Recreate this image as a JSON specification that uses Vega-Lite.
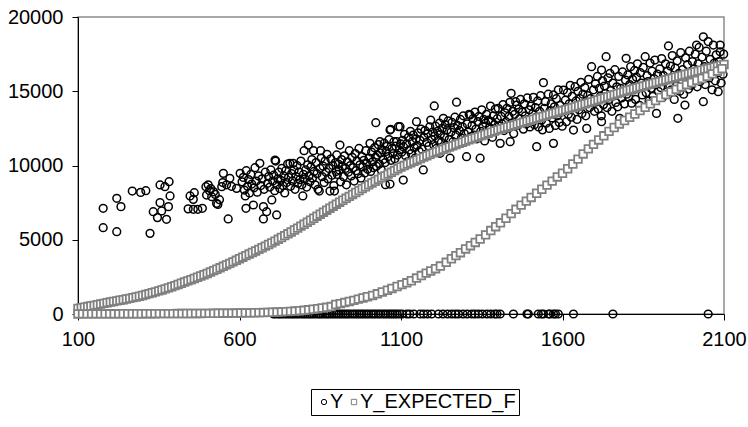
{
  "$schema": "https://vega.github.io/schema/vega-lite/v6.json",
  "width": 646,
  "height": 297,
  "autosize": {"type": "none"},
  "padding": {"left": 78, "top": 17, "right": 24, "bottom": 113},
  "background": "white",
  "config": {
    "font": "Liberation Sans",
    "view": {"stroke": "#8c8c8c", "strokeWidth": 1.5},
    "axis": {
      "grid": false,
      "domainColor": "black",
      "domainWidth": 1,
      "tickColor": "black",
      "tickSize": 6,
      "labelFont": "Liberation Sans",
      "labelFontSize": 20,
      "labelColor": "black",
      "labelFlush": false,
      "labelOverlap": false,
      "title": null
    },
    "legend": {
      "orient": "none",
      "legendX": 233,
      "legendY": 372,
      "direction": "horizontal",
      "strokeColor": "black",
      "fillColor": "white",
      "padding": 3,
      "labelFont": "Liberation Sans",
      "labelFontSize": 20,
      "labelColor": "black",
      "labelOffset": -4,
      "columnPadding": -6,
      "symbolSize": 28,
      "symbolStrokeWidth": 1,
      "title": null
    }
  },
  "datasets": {
    "Y": [
      {"x":178,"y":7120},{"x":178,"y":5810},{"x":220,"y":7790},{"x":233,"y":7230},{"x":220,"y":5540},{"x":268,"y":8280},{"x":294,"y":8190},{"x":310,"y":8300},{"x":323,"y":5430},{"x":333,"y":6890},{"x":346,"y":6490},{"x":354,"y":7500},{"x":354,"y":8690},{"x":369,"y":8570},{"x":382,"y":8910},{"x":385,"y":7950},{"x":380,"y":7230},{"x":359,"y":6940},{"x":374,"y":6380},{"x":447,"y":7950},{"x":460,"y":8170},{"x":457,"y":7720},{"x":441,"y":7080},{"x":457,"y":7050},{"x":471,"y":7050},{"x":485,"y":7120},{"x":496,"y":8570},{"x":507,"y":8300},{"x":498,"y":8010},{"x":514,"y":7900},{"x":529,"y":7450},{"x":533,"y":7380},{"x":520,"y":8230},{"x":550,"y":9470},{"x":570,"y":9140},{"x":565,"y":6400},{"x":545,"y":8570},{"x":591,"y":8460},{"x":602,"y":9470},{"x":503,"y":8700},{"x":511,"y":8450},{"x":525,"y":8050},{"x":538,"y":7700},{"x":548,"y":8850},{"x":560,"y":8700},{"x":575,"y":8600},{"x":620,"y":7120},
      {"x":608,"y":8900},{"x":612,"y":9200},{"x":615,"y":8350},{"x":618,"y":7950},{"x":621,"y":9650},{"x":625,"y":8600},{"x":628,"y":9050},{"x":631,"y":8150},{"x":635,"y":9400},{"x":638,"y":8750},{"x":643,"y":7340},{"x":645,"y":8500},{"x":648,"y":9850},{"x":652,"y":8950},{"x":655,"y":8200},{"x":659,"y":9300},{"x":663,"y":10150},{"x":666,"y":8650},{"x":670,"y":9100},{"x":674,"y":7230},{"x":676,"y":8400},{"x":680,"y":9550},{"x":684,"y":6890},{"x":687,"y":8800},{"x":690,"y":9250},{"x":694,"y":8550},{"x":697,"y":9700},{"x":674,"y":6400},{"x":700,"y":7680},
      {"x":703,"y":8950},{"x":706,"y":9350},{"x":709,"y":8300},{"x":710,"y":10370},{"x":712,"y":10300},{"x":715,"y":6670},{"x":716,"y":8700},{"x":719,"y":9100},{"x":722,"y":9550},{"x":725,"y":8450},{"x":728,"y":9000},{"x":731,"y":9800},{"x":734,"y":8650},{"x":737,"y":9300},{"x":740,"y":8150},{"x":743,"y":9650},{"x":746,"y":8850},{"x":749,"y":10100},{"x":752,"y":9200},{"x":756,"y":10150},{"x":758,"y":8600},{"x":761,"y":9450},{"x":764,"y":8950},{"x":766,"y":10150},{"x":769,"y":9700},{"x":772,"y":8400},{"x":775,"y":9250},{"x":778,"y":10000},{"x":781,"y":8800},{"x":784,"y":9550},{"x":787,"y":9050},{"x":790,"y":10300},{"x":793,"y":8700},{"x":796,"y":7950},{"x":798,"y":9400},
      {"x":800,"y":11000},{"x":802,"y":9100},{"x":805,"y":9700},{"x":808,"y":8550},{"x":811,"y":10050},{"x":813,"y":11380},{"x":815,"y":9300},{"x":818,"y":8900},{"x":821,"y":9900},{"x":824,"y":10400},{"x":826,"y":9150},{"x":829,"y":11000},{"x":831,"y":9600},{"x":834,"y":8700},{"x":837,"y":10200},{"x":840,"y":9450},{"x":843,"y":8400},{"x":847,"y":8280},{"x":849,"y":9800},{"x":851,"y":11000},{"x":853,"y":10500},{"x":856,"y":9250},{"x":859,"y":9950},{"x":862,"y":8850},{"x":865,"y":10300},{"x":868,"y":9550},{"x":871,"y":10750},{"x":874,"y":9100},{"x":877,"y":9800},{"x":880,"y":8280},{"x":883,"y":10450},{"x":886,"y":9350},{"x":889,"y":10000},{"x":892,"y":8650},{"x":894,"y":8280},{"x":897,"y":10200},{"x":899,"y":9600},
      {"x":901,"y":10710},{"x":903,"y":9400},{"x":906,"y":10100},{"x":909,"y":9700},{"x":911,"y":11380},{"x":913,"y":8900},{"x":916,"y":10400},{"x":919,"y":9950},{"x":922,"y":9250},{"x":925,"y":10650},{"x":928,"y":9800},{"x":931,"y":8700},{"x":934,"y":10250},{"x":937,"y":9550},{"x":940,"y":11000},{"x":943,"y":10000},{"x":946,"y":9300},{"x":949,"y":10550},{"x":952,"y":9850},{"x":955,"y":8950},{"x":958,"y":10800},{"x":961,"y":9650},{"x":964,"y":10300},{"x":967,"y":9450},{"x":970,"y":11150},{"x":973,"y":10050},{"x":976,"y":9150},{"x":979,"y":10600},{"x":982,"y":9900},{"x":985,"y":10350},{"x":988,"y":9500},{"x":991,"y":11000},{"x":994,"y":10150},{"x":997,"y":9750},
      {"x":1004,"y":11490},{"x":1002,"y":10500},{"x":1006,"y":9600},{"x":1009,"y":10900},{"x":1012,"y":10250},{"x":1015,"y":9850},{"x":1018,"y":11200},{"x":1021,"y":10550},{"x":1022,"y":12880},{"x":1024,"y":9950},{"x":1027,"y":10700},{"x":1030,"y":11400},{"x":1033,"y":10100},{"x":1035,"y":11600},{"x":1036,"y":10850},{"x":1039,"y":9700},{"x":1042,"y":11050},{"x":1045,"y":10400},{"x":1048,"y":11500},{"x":1051,"y":10200},{"x":1052,"y":8710},{"x":1054,"y":10950},{"x":1057,"y":11300},{"x":1060,"y":10600},{"x":1063,"y":11750},{"x":1066,"y":8750},{"x":1066,"y":12390},{"x":1068,"y":12440},{"x":1069,"y":10350},{"x":1072,"y":11150},{"x":1075,"y":10800},{"x":1078,"y":11600},{"x":1081,"y":10450},{"x":1084,"y":11300},{"x":1087,"y":11600},{"x":1089,"y":10700},{"x":1092,"y":12610},{"x":1095,"y":11050},{"x":1097,"y":12610},{"x":1099,"y":11450},
      {"x":1102,"y":10900},{"x":1105,"y":11700},{"x":1107,"y":9020},{"x":1108,"y":11250},{"x":1111,"y":12100},{"x":1114,"y":10650},{"x":1117,"y":11450},{"x":1120,"y":10250},{"x":1123,"y":11900},{"x":1126,"y":11050},{"x":1129,"y":12300},{"x":1132,"y":10800},{"x":1135,"y":11600},{"x":1138,"y":12050},{"x":1141,"y":11200},{"x":1144,"y":10500},{"x":1147,"y":11800},{"x":1148,"y":12950},{"x":1150,"y":11350},{"x":1153,"y":12200},{"x":1156,"y":10950},{"x":1159,"y":11700},{"x":1162,"y":12450},{"x":1165,"y":11100},{"x":1169,"y":9700},{"x":1171,"y":11900},{"x":1174,"y":12350},{"x":1177,"y":10750},{"x":1180,"y":11550},{"x":1183,"y":12150},{"x":1186,"y":11300},{"x":1189,"y":12600},{"x":1192,"y":13060},{"x":1195,"y":11750},{"x":1198,"y":12250},
      {"x":1201,"y":11400},{"x":1203,"y":14010},{"x":1204,"y":12000},{"x":1207,"y":12650},{"x":1210,"y":11150},{"x":1213,"y":12300},{"x":1216,"y":11700},{"x":1219,"y":12850},{"x":1221,"y":10820},{"x":1222,"y":12100},{"x":1225,"y":11550},{"x":1228,"y":12500},{"x":1231,"y":13180},{"x":1234,"y":11900},{"x":1237,"y":12750},{"x":1240,"y":11350},{"x":1243,"y":12400},{"x":1246,"y":13000},{"x":1249,"y":11750},{"x":1252,"y":10490},{"x":1255,"y":12250},{"x":1258,"y":12900},{"x":1261,"y":11600},{"x":1264,"y":12550},{"x":1267,"y":13250},{"x":1270,"y":12050},{"x":1272,"y":14260},{"x":1275,"y":12700},{"x":1278,"y":11450},{"x":1281,"y":12350},{"x":1284,"y":13100},{"x":1287,"y":11850},{"x":1290,"y":12600},{"x":1293,"y":13350},{"x":1296,"y":12150},{"x":1299,"y":11700},
      {"x":1303,"y":10590},{"x":1305,"y":12800},{"x":1308,"y":12250},{"x":1311,"y":13450},{"x":1314,"y":13400},{"x":1317,"y":11950},{"x":1320,"y":12700},{"x":1323,"y":13150},{"x":1326,"y":12050},{"x":1329,"y":13600},{"x":1332,"y":12450},{"x":1335,"y":11800},{"x":1338,"y":12950},{"x":1341,"y":13300},{"x":1345,"y":10490},{"x":1347,"y":12300},{"x":1350,"y":13750},{"x":1353,"y":12650},{"x":1356,"y":13100},{"x":1359,"y":11650},{"x":1362,"y":12850},{"x":1365,"y":13450},{"x":1368,"y":12200},{"x":1371,"y":13050},{"x":1374,"y":12550},{"x":1377,"y":14000},{"x":1380,"y":12950},{"x":1383,"y":11900},{"x":1386,"y":13350},{"x":1389,"y":12750},{"x":1392,"y":13800},{"x":1395,"y":12400},{"x":1398,"y":13150},{"x":1401,"y":13850},
      {"x":1404,"y":12650},{"x":1407,"y":11490},{"x":1410,"y":13300},{"x":1413,"y":12800},{"x":1416,"y":14100},{"x":1419,"y":12350},{"x":1422,"y":13550},{"x":1425,"y":12950},{"x":1428,"y":13850},{"x":1431,"y":12500},{"x":1434,"y":13300},{"x":1437,"y":14250},{"x":1438,"y":11600},{"x":1441,"y":14860},{"x":1443,"y":12850},{"x":1446,"y":13650},{"x":1449,"y":12150},{"x":1452,"y":13450},{"x":1455,"y":14300},{"x":1458,"y":14070},{"x":1461,"y":12700},{"x":1464,"y":13800},{"x":1467,"y":13150},{"x":1470,"y":14450},{"x":1473,"y":12900},{"x":1476,"y":13600},{"x":1479,"y":12450},{"x":1482,"y":14150},{"x":1485,"y":13350},{"x":1488,"y":12800},{"x":1491,"y":14550},{"x":1494,"y":13100},{"x":1497,"y":13750},{"x":1499,"y":12600},
      {"x":1502,"y":14000},{"x":1505,"y":12950},{"x":1508,"y":13500},{"x":1510,"y":14590},{"x":1513,"y":12750},{"x":1516,"y":13900},{"x":1519,"y":13250},{"x":1520,"y":11270},{"x":1523,"y":14350},{"x":1526,"y":12600},{"x":1529,"y":13650},{"x":1532,"y":14700},{"x":1535,"y":13050},{"x":1538,"y":12400},{"x":1541,"y":15580},{"x":1544,"y":13850},{"x":1547,"y":14300},{"x":1550,"y":12850},{"x":1553,"y":13450},{"x":1556,"y":14800},{"x":1559,"y":12500},{"x":1562,"y":13700},{"x":1565,"y":14150},{"x":1568,"y":13200},{"x":1572,"y":11490},{"x":1572,"y":14750},{"x":1575,"y":13950},{"x":1578,"y":12700},{"x":1581,"y":14500},{"x":1584,"y":13350},{"x":1587,"y":15100},{"x":1590,"y":12900},{"x":1593,"y":14050},{"x":1596,"y":13600},{"x":1599,"y":12650},
      {"x":1603,"y":15080},{"x":1606,"y":13800},{"x":1609,"y":14400},{"x":1612,"y":12950},{"x":1615,"y":14900},{"x":1618,"y":13450},{"x":1621,"y":14150},{"x":1624,"y":15400},{"x":1627,"y":13250},{"x":1630,"y":14650},{"x":1634,"y":12390},{"x":1636,"y":13950},{"x":1639,"y":15310},{"x":1642,"y":14350},{"x":1645,"y":13100},{"x":1648,"y":15000},{"x":1651,"y":13750},{"x":1654,"y":14500},{"x":1657,"y":15600},{"x":1660,"y":13500},{"x":1663,"y":14800},{"x":1666,"y":14100},{"x":1669,"y":15250},{"x":1672,"y":13350},{"x":1675,"y":12500},{"x":1678,"y":14700},{"x":1681,"y":15800},{"x":1684,"y":13900},{"x":1687,"y":14500},{"x":1690,"y":16650},{"x":1693,"y":14250},{"x":1696,"y":15100},{"x":1699,"y":13650},
      {"x":1702,"y":15500},{"x":1705,"y":14300},{"x":1708,"y":16000},{"x":1711,"y":13800},{"x":1714,"y":15200},{"x":1717,"y":14650},{"x":1720,"y":13350},{"x":1721,"y":16430},{"x":1721,"y":12950},{"x":1724,"y":15700},{"x":1727,"y":14100},{"x":1730,"y":15350},{"x":1733,"y":14850},{"x":1735,"y":17330},{"x":1738,"y":13900},{"x":1741,"y":15900},{"x":1744,"y":14450},{"x":1747,"y":16200},{"x":1750,"y":15050},{"x":1753,"y":13650},{"x":1756,"y":15550},{"x":1759,"y":14700},{"x":1762,"y":16450},{"x":1765,"y":14250},{"x":1768,"y":15300},{"x":1771,"y":13950},{"x":1774,"y":16000},{"x":1777,"y":13180},{"x":1780,"y":15200},{"x":1783,"y":14550},{"x":1786,"y":16300},{"x":1789,"y":15000},{"x":1792,"y":14150},{"x":1795,"y":15750},{"x":1797,"y":17220},{"x":1799,"y":14800},
      {"x":1802,"y":16100},{"x":1805,"y":14600},{"x":1808,"y":15450},{"x":1811,"y":16650},{"x":1814,"y":14200},{"x":1817,"y":15800},{"x":1820,"y":15100},{"x":1823,"y":16400},{"x":1826,"y":14450},{"x":1829,"y":15950},{"x":1832,"y":16850},{"x":1835,"y":15250},{"x":1838,"y":14050},{"x":1841,"y":16250},{"x":1844,"y":15550},{"x":1847,"y":14750},{"x":1850,"y":16600},{"x":1853,"y":15350},{"x":1856,"y":17330},{"x":1859,"y":14900},{"x":1862,"y":16050},{"x":1865,"y":15650},{"x":1868,"y":14350},{"x":1871,"y":16900},{"x":1874,"y":15200},{"x":1877,"y":16350},{"x":1880,"y":14650},{"x":1883,"y":15850},{"x":1886,"y":17100},{"x":1889,"y":15450},{"x":1891,"y":13510},{"x":1894,"y":16150},{"x":1897,"y":15000},
      {"x":1901,"y":16500},{"x":1904,"y":15250},{"x":1907,"y":17200},{"x":1910,"y":14600},{"x":1913,"y":16050},{"x":1916,"y":15650},{"x":1919,"y":16850},{"x":1922,"y":14950},{"x":1925,"y":16350},{"x":1928,"y":18050},{"x":1931,"y":15450},{"x":1934,"y":16700},{"x":1937,"y":15100},{"x":1940,"y":17400},{"x":1943,"y":15900},{"x":1946,"y":14450},{"x":1949,"y":16550},{"x":1952,"y":15350},{"x":1955,"y":17050},{"x":1957,"y":13180},{"x":1960,"y":16200},{"x":1963,"y":15000},{"x":1966,"y":17600},{"x":1969,"y":15750},{"x":1972,"y":16450},{"x":1975,"y":14800},{"x":1979,"y":14070},{"x":1981,"y":17250},{"x":1984,"y":15500},{"x":1987,"y":16800},{"x":1990,"y":15150},{"x":1993,"y":17700},{"x":1996,"y":16050},{"x":1999,"y":15400},
      {"x":2002,"y":17000},{"x":2005,"y":15800},{"x":2008,"y":16500},{"x":2011,"y":17500},{"x":2015,"y":18110},{"x":2017,"y":15300},{"x":2020,"y":16850},{"x":2023,"y":17950},{"x":2026,"y":15650},{"x":2029,"y":16300},{"x":2032,"y":17300},{"x":2036,"y":18670},{"x":2036,"y":14300},{"x":2039,"y":16650},{"x":2042,"y":15450},{"x":2045,"y":17700},{"x":2048,"y":16150},{"x":2051,"y":18350},{"x":2054,"y":15900},{"x":2057,"y":17150},{"x":2060,"y":16600},{"x":2063,"y":15100},{"x":2067,"y":18110},{"x":2070,"y":16900},{"x":2073,"y":15700},{"x":2076,"y":17450},{"x":2079,"y":16250},{"x":2082,"y":14970},{"x":2085,"y":17000},{"x":2088,"y":17660},{"x":2088,"y":18110},{"x":2091,"y":15550},{"x":2094,"y":16800},{"x":2097,"y":16150},{"x":2099,"y":17500},
      {"x":705,"y":0},{"x":712,"y":0},{"x":720,"y":0},{"x":726,"y":0},{"x":733,"y":0},{"x":741,"y":0},{"x":748,"y":0},{"x":755,"y":0},{"x":762,"y":0},{"x":768,"y":0},{"x":775,"y":0},{"x":782,"y":0},{"x":790,"y":0},{"x":797,"y":0},{"x":803,"y":0},{"x":810,"y":0},{"x":817,"y":0},{"x":823,"y":0},{"x":830,"y":0},{"x":838,"y":0},{"x":845,"y":0},{"x":851,"y":0},{"x":858,"y":0},{"x":866,"y":0},{"x":872,"y":0},{"x":879,"y":0},{"x":886,"y":0},{"x":893,"y":0},{"x":900,"y":0},{"x":907,"y":0},{"x":914,"y":0},{"x":921,"y":0},{"x":928,"y":0},{"x":935,"y":0},{"x":942,"y":0},{"x":950,"y":0},{"x":957,"y":0},{"x":964,"y":0},{"x":971,"y":0},{"x":978,"y":0},{"x":985,"y":0},{"x":993,"y":0},{"x":1000,"y":0},{"x":1008,"y":0},{"x":1015,"y":0},{"x":1022,"y":0},{"x":1030,"y":0},{"x":1037,"y":0},{"x":1045,"y":0},{"x":1052,"y":0},{"x":1060,"y":0},{"x":1067,"y":0},{"x":1074,"y":0},{"x":1081,"y":0},{"x":1088,"y":0},{"x":1096,"y":0},
      {"x":1104,"y":0},{"x":1118,"y":0},{"x":1127,"y":0},{"x":1140,"y":0},{"x":1159,"y":0},{"x":1170,"y":0},{"x":1182,"y":0},{"x":1195,"y":0},{"x":1216,"y":0},{"x":1230,"y":0},{"x":1244,"y":0},{"x":1257,"y":0},{"x":1268,"y":0},{"x":1278,"y":0},{"x":1292,"y":0},{"x":1305,"y":0},{"x":1319,"y":0},{"x":1329,"y":0},{"x":1340,"y":0},{"x":1352,"y":0},{"x":1366,"y":0},{"x":1378,"y":0},{"x":1390,"y":0},{"x":1397,"y":0},
      {"x":1407,"y":0},{"x":1448,"y":0},{"x":1490,"y":0},{"x":1494,"y":0},{"x":1525,"y":0},{"x":1535,"y":0},{"x":1541,"y":0},{"x":1557,"y":0},{"x":1561,"y":0},{"x":1572,"y":0},{"x":1578,"y":0},{"x":1587,"y":0},{"x":1634,"y":0},{"x":1756,"y":0},{"x":2051,"y":0}
    ],
    "Y_EXPECTED_F": [
      {"x":100,"y":380},{"x":110,"y":420},{"x":120,"y":460},{"x":130,"y":500},{"x":140,"y":540},{"x":150,"y":580},{"x":160,"y":625},{"x":170,"y":670},{"x":180,"y":715},{"x":190,"y":760},
      {"x":200,"y":805},{"x":210,"y":845},{"x":220,"y":885},{"x":230,"y":925},{"x":240,"y":965},{"x":250,"y":1010},{"x":260,"y":1055},{"x":270,"y":1100},{"x":280,"y":1150},{"x":290,"y":1200},
      {"x":300,"y":1250},{"x":310,"y":1310},{"x":320,"y":1370},{"x":330,"y":1430},{"x":340,"y":1490},{"x":350,"y":1555},{"x":360,"y":1620},{"x":370,"y":1690},{"x":380,"y":1760},{"x":390,"y":1835},
      {"x":400,"y":1910},{"x":410,"y":1990},{"x":420,"y":2070},{"x":430,"y":2150},{"x":440,"y":2230},{"x":450,"y":2310},{"x":460,"y":2390},{"x":470,"y":2475},{"x":480,"y":2560},{"x":490,"y":2645},
      {"x":500,"y":2730},{"x":510,"y":2825},{"x":520,"y":2920},{"x":530,"y":3015},{"x":540,"y":3110},{"x":550,"y":3210},{"x":560,"y":3310},{"x":570,"y":3410},{"x":580,"y":3510},{"x":590,"y":3615},
      {"x":600,"y":3720},{"x":610,"y":3825},{"x":620,"y":3930},{"x":630,"y":4035},{"x":640,"y":4140},{"x":650,"y":4245},{"x":660,"y":4350},{"x":670,"y":4460},{"x":680,"y":4570},{"x":690,"y":4680},
      {"x":700,"y":4790},{"x":710,"y":4910},{"x":720,"y":5030},{"x":730,"y":5150},{"x":740,"y":5275},{"x":750,"y":5400},{"x":760,"y":5525},{"x":770,"y":5655},{"x":780,"y":5785},{"x":790,"y":5915},
      {"x":800,"y":6045},{"x":810,"y":6180},{"x":820,"y":6315},{"x":830,"y":6450},{"x":840,"y":6585},{"x":850,"y":6720},{"x":860,"y":6855},{"x":870,"y":6990},{"x":880,"y":7125},{"x":890,"y":7260},
      {"x":900,"y":7395},{"x":910,"y":7530},{"x":920,"y":7660},{"x":930,"y":7790},{"x":940,"y":7920},{"x":950,"y":8050},{"x":960,"y":8180},{"x":970,"y":8310},{"x":980,"y":8440},{"x":990,"y":8570},
      {"x":1000,"y":8700},{"x":1010,"y":8820},{"x":1020,"y":8940},{"x":1030,"y":9060},{"x":1040,"y":9180},{"x":1050,"y":9300},{"x":1060,"y":9420},{"x":1070,"y":9540},{"x":1080,"y":9660},{"x":1090,"y":9780},
      {"x":1100,"y":9900},{"x":1110,"y":9995},{"x":1120,"y":10090},{"x":1130,"y":10185},{"x":1140,"y":10280},{"x":1150,"y":10375},{"x":1160,"y":10470},{"x":1170,"y":10565},{"x":1180,"y":10660},{"x":1190,"y":10755},
      {"x":1200,"y":10850},{"x":1210,"y":10930},{"x":1220,"y":11010},{"x":1230,"y":11090},{"x":1240,"y":11170},{"x":1250,"y":11250},{"x":1260,"y":11330},{"x":1270,"y":11410},{"x":1280,"y":11490},{"x":1290,"y":11570},
      {"x":1300,"y":11650},{"x":1310,"y":11725},{"x":1320,"y":11800},{"x":1330,"y":11875},{"x":1340,"y":11950},{"x":1350,"y":12025},{"x":1360,"y":12100},{"x":1370,"y":12175},{"x":1380,"y":12250},{"x":1390,"y":12325},
      {"x":1400,"y":12400},{"x":1410,"y":12465},{"x":1420,"y":12530},{"x":1430,"y":12595},{"x":1440,"y":12660},{"x":1450,"y":12725},{"x":1460,"y":12790},{"x":1470,"y":12855},{"x":1480,"y":12920},{"x":1490,"y":12985},
      {"x":1500,"y":13050},{"x":1510,"y":13115},{"x":1520,"y":13180},{"x":1530,"y":13245},{"x":1540,"y":13310},{"x":1550,"y":13375},{"x":1560,"y":13440},{"x":1570,"y":13505},{"x":1580,"y":13570},{"x":1590,"y":13635},
      {"x":1600,"y":13700},{"x":1610,"y":13765},{"x":1620,"y":13830},{"x":1630,"y":13895},{"x":1640,"y":13960},{"x":1650,"y":14025},{"x":1660,"y":14090},{"x":1670,"y":14155},{"x":1680,"y":14220},{"x":1690,"y":14285},
      {"x":1700,"y":14350},{"x":1710,"y":14420},{"x":1720,"y":14490},{"x":1730,"y":14560},{"x":1740,"y":14630},{"x":1750,"y":14700},{"x":1760,"y":14770},{"x":1770,"y":14840},{"x":1780,"y":14910},{"x":1790,"y":14980},
      {"x":1800,"y":15050},{"x":1810,"y":15110},{"x":1820,"y":15170},{"x":1830,"y":15230},{"x":1840,"y":15290},{"x":1850,"y":15350},{"x":1860,"y":15410},{"x":1870,"y":15470},{"x":1880,"y":15530},{"x":1890,"y":15590},
      {"x":1900,"y":15650},{"x":1910,"y":15710},{"x":1920,"y":15770},{"x":1930,"y":15830},{"x":1940,"y":15890},{"x":1950,"y":15950},{"x":1960,"y":16010},{"x":1970,"y":16070},{"x":1980,"y":16130},{"x":1990,"y":16190},
      {"x":2000,"y":16250},{"x":2010,"y":16305},{"x":2020,"y":16360},{"x":2030,"y":16415},{"x":2040,"y":16470},{"x":2050,"y":16525},{"x":2060,"y":16580},{"x":2070,"y":16635},{"x":2080,"y":16690},{"x":2090,"y":16745},{"x":2100,"y":16800},
      {"x":100,"y":5},{"x":114,"y":6},{"x":128,"y":7},{"x":142,"y":8},{"x":156,"y":9},{"x":170,"y":10},{"x":184,"y":11},{"x":198,"y":12},{"x":212,"y":13},{"x":226,"y":14},{"x":240,"y":15},{"x":254,"y":16},{"x":268,"y":17},{"x":282,"y":18},{"x":296,"y":19},{"x":310,"y":20},{"x":324,"y":21},{"x":338,"y":22},{"x":352,"y":23},{"x":366,"y":24},{"x":380,"y":25},{"x":394,"y":27},{"x":408,"y":29},{"x":422,"y":31},{"x":436,"y":33},{"x":450,"y":35},{"x":464,"y":37},{"x":478,"y":39},{"x":492,"y":41},{"x":506,"y":44},{"x":520,"y":47},{"x":534,"y":50},{"x":548,"y":53},{"x":562,"y":56},{"x":576,"y":60},{"x":590,"y":64},{"x":604,"y":68},{"x":618,"y":73},{"x":632,"y":78},{"x":646,"y":84},{"x":660,"y":90},{"x":674,"y":98},{"x":688,"y":107},{"x":702,"y":118},{"x":716,"y":130},{"x":730,"y":144},{"x":744,"y":160},{"x":758,"y":178},{"x":772,"y":198},{"x":786,"y":222},{"x":800,"y":250},{"x":814,"y":282},{"x":828,"y":318},{"x":842,"y":358},{"x":856,"y":402},{"x":870,"y":450},{"x":884,"y":502},{"x":898,"y":640},{"x":912,"y":700},{"x":926,"y":770},{"x":940,"y":840},{"x":954,"y":920},{"x":968,"y":1000},{"x":982,"y":1080},{"x":996,"y":1160},
      {"x":1012,"y":1250},{"x":1027,"y":1360},{"x":1042,"y":1480},{"x":1058,"y":1600},{"x":1072,"y":1720},{"x":1088,"y":1850},{"x":1103,"y":1980},{"x":1118,"y":2100},{"x":1132,"y":2240},{"x":1148,"y":2420},{"x":1163,"y":2590},{"x":1178,"y":2750},{"x":1192,"y":2900},{"x":1207,"y":3050},{"x":1222,"y":3230},{"x":1240,"y":3480},{"x":1256,"y":3720},{"x":1270,"y":3930},{"x":1284,"y":4130},{"x":1300,"y":4380},{"x":1315,"y":4600},{"x":1330,"y":4820},{"x":1345,"y":5050},{"x":1362,"y":5330},{"x":1378,"y":5620},{"x":1393,"y":5880},{"x":1408,"y":6140},{"x":1425,"y":6450},{"x":1441,"y":6760},{"x":1456,"y":7050},{"x":1472,"y":7330},{"x":1488,"y":7600},{"x":1503,"y":7850},{"x":1520,"y":8130},{"x":1536,"y":8400},{"x":1552,"y":8680},{"x":1568,"y":8950},{"x":1584,"y":9230},{"x":1600,"y":9480},{"x":1616,"y":9780},{"x":1632,"y":10100},{"x":1648,"y":10430},{"x":1664,"y":10780},{"x":1680,"y":11120},{"x":1696,"y":11420},{"x":1712,"y":11720},{"x":1728,"y":12000},{"x":1744,"y":12300},{"x":1760,"y":12560},{"x":1776,"y":12800},{"x":1792,"y":13030},{"x":1808,"y":13250},{"x":1824,"y":13470},{"x":1840,"y":13700},{"x":1856,"y":13920},{"x":1872,"y":14150},{"x":1888,"y":14370},{"x":1904,"y":14580},{"x":1920,"y":14780},{"x":1936,"y":14960},{"x":1952,"y":15130},{"x":1968,"y":15290},{"x":1984,"y":15440},{"x":2000,"y":15590},{"x":2016,"y":15730},{"x":2032,"y":15860},{"x":2048,"y":16000},{"x":2064,"y":16170},{"x":2080,"y":16350},{"x":2094,"y":16520}
    ]
  },
  "encoding": {
    "x": {
      "field": "x",
      "type": "quantitative",
      "scale": {"domain": [100, 2100], "nice": false, "zero": false},
      "axis": {"values": [100, 600, 1100, 1600, 2100], "format": "d", "labelPadding": 9}
    },
    "y": {
      "field": "y",
      "type": "quantitative",
      "scale": {"domain": [0, 20000], "nice": false},
      "axis": {"values": [0, 5000, 10000, 15000, 20000], "format": "d", "labelPadding": 9}
    }
  },
  "layer": [
    {
      "data": {"name": "Y"},
      "mark": {"type": "point", "filled": false, "size": 60, "strokeWidth": 1.5, "opacity": 1},
      "encoding": {
        "color": {
          "datum": "Y",
          "scale": {"domain": ["Y", "Y_EXPECTED_F"], "range": ["black", "#808080"]}
        },
        "shape": {
          "datum": "Y",
          "scale": {"domain": ["Y", "Y_EXPECTED_F"], "range": ["circle", "square"]}
        }
      }
    },
    {
      "data": {"name": "Y_EXPECTED_F"},
      "mark": {"type": "point", "filled": false, "fill": "white", "fillOpacity": 1, "size": 58, "strokeWidth": 1.8, "opacity": 1},
      "encoding": {
        "color": {"datum": "Y_EXPECTED_F"},
        "shape": {"datum": "Y_EXPECTED_F"}
      }
    }
  ]
}
